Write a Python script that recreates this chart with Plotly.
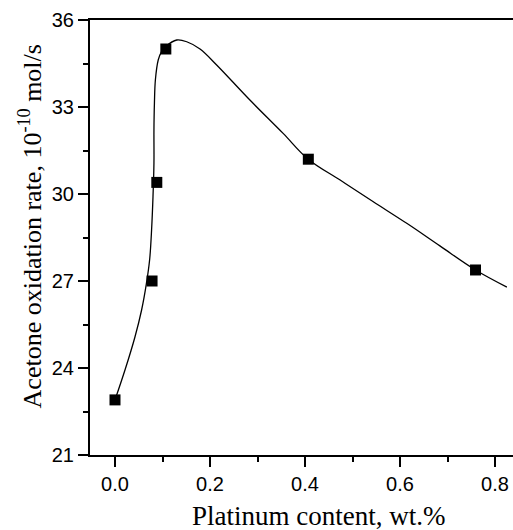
import plotly.graph_objects as go

# Measured points: Pt content (wt.%) vs acetone oxidation rate (1e-10 mol/s)
pt_content = [0.0, 0.078, 0.088, 0.107, 0.407, 0.759]
oxidation_rate = [22.9, 27.0, 30.4, 35.0, 31.2, 27.38]

# Smooth guide curve through the data
curve_x = [0.0, 0.021, 0.042, 0.056, 0.066, 0.073, 0.077, 0.080, 0.082, 0.082,
           0.083, 0.085, 0.091, 0.098, 0.107, 0.130, 0.151, 0.179, 0.214, 0.284,
           0.354, 0.406, 0.474, 0.543, 0.615, 0.684, 0.759, 0.825]
curve_y = [22.9, 23.93, 25.07, 26.0, 26.9, 27.75, 28.76, 29.91, 31.07, 32.21,
           33.14, 33.93, 34.62, 34.91, 35.09, 35.31, 35.25, 35.0, 34.45, 33.24,
           32.09, 31.21, 30.48, 29.74, 28.98, 28.21, 27.38, 26.79]

x_ticks = [0.0, 0.2, 0.4, 0.6, 0.8]
x_tick_labels = ["0.0", "0.2", "0.4", "0.6", "0.8"]
y_ticks = [21, 24, 27, 30, 33, 36]

fig = go.Figure()
fig.add_trace(go.Scatter(
    x=curve_x, y=curve_y, mode="lines",
    line=dict(color="black", width=1.3, shape="spline", smoothing=1.0),
    hoverinfo="skip", showlegend=False,
))
fig.add_trace(go.Scatter(
    x=pt_content, y=oxidation_rate, mode="markers",
    marker=dict(symbol="square", size=11, color="black"),
    showlegend=False,
))

tick_font = dict(family="Liberation Sans, Arial, sans-serif", size=20, color="black")
serif = "Liberation Serif, Times New Roman, serif"

fig.update_xaxes(
    range=[-25 / 475, 398 / 475],
    tickvals=x_ticks, ticktext=x_tick_labels,
    ticks="outside", ticklen=10, tickwidth=1.5, tickcolor="black",
    minor=dict(dtick=0.1, tick0=0, ticks="outside", ticklen=5, tickwidth=1.5, tickcolor="black"),
    showline=True, linewidth=2, linecolor="black", mirror=True,
    showgrid=False, zeroline=False, tickfont=tick_font,
)
fig.update_yaxes(
    range=[21, 36],
    tickvals=y_ticks,
    ticks="outside", ticklen=10, tickwidth=1.5, tickcolor="black",
    minor=dict(dtick=1.5, tick0=21, ticks="outside", ticklen=5, tickwidth=1.5, tickcolor="black"),
    showline=True, linewidth=2, linecolor="black",
    showgrid=False, zeroline=False, tickfont=tick_font,
)

fig.add_annotation(
    text="Platinum content, wt.%", xref="paper", yref="paper",
    x=0.541, y=-0.141, xanchor="center", yanchor="middle",
    showarrow=False, font=dict(family=serif, size=27, color="black"),
)
fig.add_annotation(
    text="Acetone oxidation rate, 10<sup>-10</sup> mol/s", xref="paper", yref="paper",
    x=-0.14, y=0.525, xanchor="center", yanchor="middle", textangle=-90,
    showarrow=False, font=dict(family=serif, size=26, color="black"),
)

fig.update_layout(
    width=513, height=530,
    margin=dict(l=90, r=0, t=20, b=75),
    plot_bgcolor="white", paper_bgcolor="white",
)

fig.write_html("out.html")
